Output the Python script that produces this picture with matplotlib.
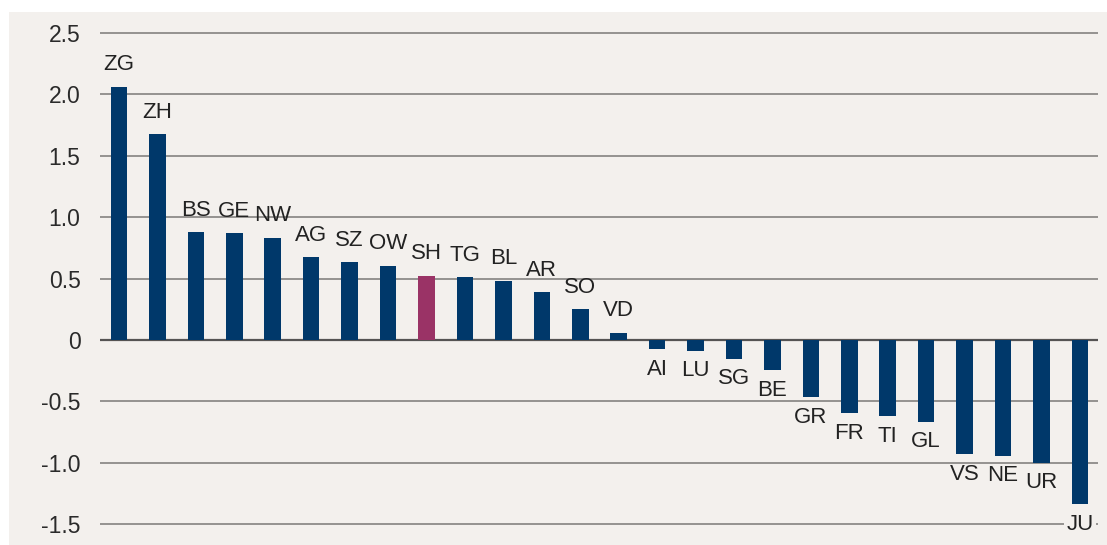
import matplotlib
matplotlib.use("Agg")
import matplotlib.pyplot as plt
from matplotlib.patches import Rectangle

cantons = ["ZG", "ZH", "BS", "GE", "NW", "AG", "SZ", "OW", "SH", "TG", "BL", "AR", "SO",
           "VD", "AI", "LU", "SG", "BE", "GR", "FR", "TI", "GL", "VS", "NE", "UR", "JU"]
values = [2.06, 1.675, 0.877, 0.869, 0.83, 0.673, 0.633, 0.603, 0.521, 0.51, 0.483, 0.388, 0.25,
          0.06, -0.076, -0.087, -0.152, -0.247, -0.467, -0.594, -0.624, -0.665, -0.928, -0.942, -1.0, -1.341]
highlight = "SH"
yticks = [2.5, 2.0, 1.5, 1.0, 0.5, 0, -0.5, -1.0, -1.5]
ytick_labels = ["2.5", "2.0", "1.5", "1.0", "0.5", "0", "-0.5", "-1.0", "-1.5"]

BG = "#F3F0ED"
NAVY = "#00386A"
MAG = "#9A3366"
GRID = "#7a7877"
ZERO = "#555353"

plt.rcParams['font.family'] = ['Liberation Sans', 'DejaVu Sans']

W, H = 1107, 545
fig = plt.figure(figsize=(W / 100, H / 100), dpi=100, facecolor=BG)
# white margins (top and left)
fig.patches.append(Rectangle((0, 1 - 12 / H), 1, 12 / H, transform=fig.transFigure,
                             facecolor="white", edgecolor="none", zorder=0))
fig.patches.append(Rectangle((0, 0), 9 / W, 1, transform=fig.transFigure,
                             facecolor="white", edgecolor="none", zorder=0))

ax = fig.add_axes([100 / W, 0.0, 998 / W, (H - 20) / H])
ax.set_facecolor("none")
ax.set_xlim(-0.494, 25.47)
ax.set_ylim(-1.671, 2.606)

for t in yticks:
    if t == 0:
        ax.axhline(t, color=ZERO, lw=1.6, zorder=1)
    else:
        ax.axhline(t, color=GRID, lw=1.1, zorder=1)

x = list(range(len(cantons)))
colors = [MAG if c == highlight else NAVY for c in cantons]
ax.bar(x, values, width=0.43, color=colors, zorder=2)

vmin = min(values)
for xi, v, lab in zip(x, values, cantons):
    if v >= 0:
        ax.annotate(lab, (xi, v), xytext=(0, 8.3), textcoords="offset points",
                    ha="center", va="bottom", fontsize=16, color="#222222", zorder=3)
    else:
        box = dict(boxstyle="square,pad=0.1", facecolor=BG, edgecolor="none") if v == vmin else None
        ax.annotate(lab, (xi, v), xytext=(0, -7), textcoords="offset points",
                    ha="center", va="top", fontsize=16, color="#222222", zorder=3,
                    bbox=box)

ax.set_yticks(yticks)
ax.set_yticklabels(ytick_labels)
ax.tick_params(axis="y", length=0, pad=14, labelsize=16.5, labelcolor="#2a2a2a")
ax.set_xticks([])
for s in ax.spines.values():
    s.set_visible(False)

fig.savefig("out.png", dpi=100, facecolor=BG)
